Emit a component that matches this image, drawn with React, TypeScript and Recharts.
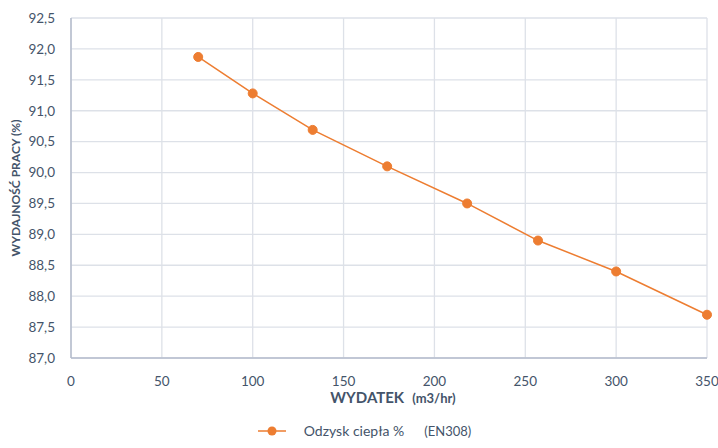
import React from 'react';
import {
  LineChart,
  Line,
  XAxis,
  YAxis,
  CartesianGrid,
  Legend,
} from 'recharts';

const flowRates = [70, 100, 133, 174, 218, 257, 300, 350];
const heatRecovery = [91.87, 91.28, 90.69, 90.1, 89.5, 88.9, 88.4, 87.7];
const xTicks = [0, 50, 100, 150, 200, 250, 300, 350];
const yTicks = [87, 87.5, 88, 88.5, 89, 89.5, 90, 90.5, 91, 91.5, 92, 92.5];

const ORANGE = '#ED7D31';
const TEXT = '#44546A';
const FONT = 'Lato, "Open Sans", sans-serif';

const data = flowRates.map((x, i) => ({ x, value: heatRecovery[i] }));

const fmt = (v: number) => v.toFixed(1).replace('.', ',');

const XLabel = (props: any) => {
  const { viewBox } = props;
  const cx = viewBox.x + viewBox.width / 2;
  return (
    <text x={cx + 4} y={viewBox.y + 45} textAnchor="middle" fill={TEXT} fontFamily={FONT} fontWeight={700}>
      <tspan fontSize={15}>WYDATEK</tspan>
      <tspan fontSize={13} dx={8}>(m3/hr)</tspan>
    </text>
  );
};

const LegendContent = () => (
  <div style={{ display: 'flex', justifyContent: 'center', alignItems: 'center', fontFamily: FONT, fontSize: 14, color: TEXT, paddingLeft: 22 }}>
    <svg width={28} height={12} style={{ marginRight: 18 }}>
      <line x1={0} y1={6} x2={28} y2={6} stroke={ORANGE} strokeWidth={1.5} />
      <circle cx={14} cy={6} r={4.5} fill={ORANGE} />
    </svg>
    <span>Odzysk ciepła %</span>
    <span style={{ marginLeft: 20, fontSize: 13 }}>(EN308)</span>
  </div>
);

export default function App() {
  return (
    <div style={{ position: 'absolute', left: 0, top: 0, width: 718, height: 448, background: '#fff' }}>
      <LineChart width={718} height={448} data={data} margin={{ top: 18, right: 11, left: 0, bottom: 0 }}>
        <CartesianGrid stroke="#DDE1E8" strokeWidth={1.3} />
        <XAxis
          dataKey="x"
          type="number"
          domain={[0, 350]}
          ticks={xTicks}
          height={64}
          axisLine={{ stroke: '#B4BDCC', strokeWidth: 1.5 }}
          tickLine={false}
          tickMargin={12}
          tick={{ fill: TEXT, fontSize: 13.5, fontFamily: FONT }}
          label={<XLabel />}
        />
        <YAxis
          type="number"
          domain={[87, 92.5]}
          ticks={yTicks}
          width={71}
          interval={0}
          axisLine={{ stroke: '#B4BDCC', strokeWidth: 1.5 }}
          tickLine={false}
          tickMargin={10}
          tickFormatter={fmt}
          tick={{ fill: TEXT, fontSize: 13.5, fontFamily: FONT }}
          label={{
            value: 'WYDAJNOŚĆ PRACY (%)',
            angle: -90,
            position: 'insideLeft',
            offset: 16,
            style: { textAnchor: 'middle', fill: TEXT, fontSize: 12, fontWeight: 700, fontFamily: FONT },
          }}
        />
        <Legend verticalAlign="bottom" height={26} content={<LegendContent />} />
        <Line
          type="linear"
          dataKey="value"
          name="Odzysk ciepła %"
          stroke={ORANGE}
          strokeWidth={1.5}
          dot={{ r: 4.5, fill: ORANGE, stroke: ORANGE, strokeWidth: 1 }}
          activeDot={false}
          isAnimationActive={false}
        />
      </LineChart>
    </div>
  );
}
